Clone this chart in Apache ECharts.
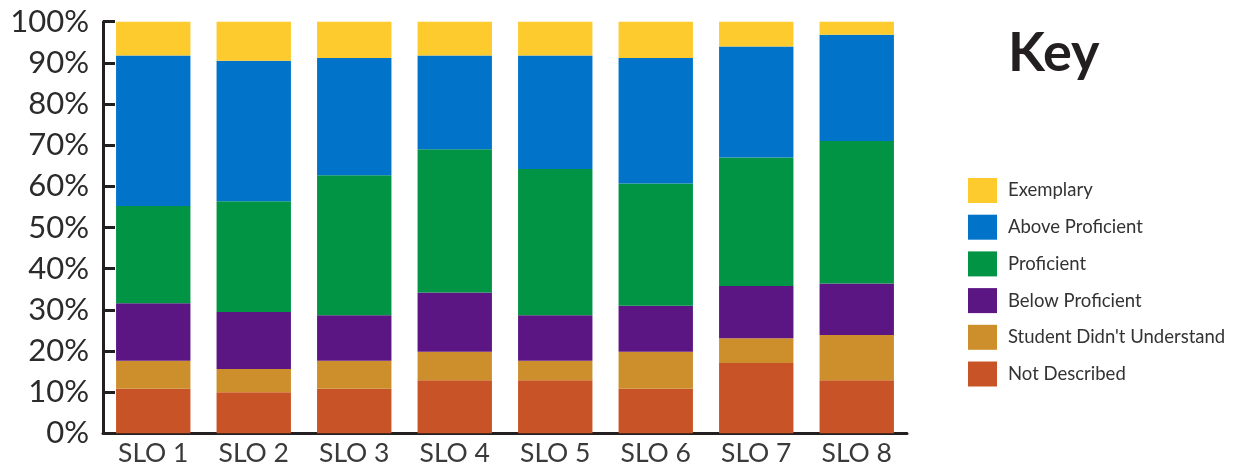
<!DOCTYPE html>
<html>
<head>
<meta charset="utf-8">
<title>SLO Results</title>
<script src="https://cdn.jsdelivr.net/npm/echarts@6/dist/echarts.min.js"></script>
<style>
  html, body { margin: 0; padding: 0; background: #fff; }
  #chart { width: 1233px; height: 470px; }
</style>
</head>
<body>
<div id="chart"></div>
<script>
// Categories and percentage shares per rating level (each column sums to 100)
const categories = ['SLO 1', 'SLO 2', 'SLO 3', 'SLO 4', 'SLO 5', 'SLO 6', 'SLO 7', 'SLO 8'];
const notDescribed      = [10.8, 10.0, 10.8, 12.9, 12.9, 10.8, 17.1, 12.9];
const didntUnderstand   = [ 6.8,  5.6,  6.8,  6.9,  4.7,  9.0,  6.0, 11.0];
const belowProficient   = [14.0, 13.9, 11.1, 14.4, 11.1, 11.2, 12.7, 12.5];
const proficient        = [23.6, 26.9, 34.0, 34.8, 35.5, 29.7, 31.2, 34.6];
const aboveProficient   = [36.6, 34.1, 28.5, 22.8, 27.6, 30.5, 27.0, 25.8];
const exemplary         = [ 8.2,  9.5,  8.8,  8.2,  8.2,  8.8,  6.0,  3.2];
const yTicks = [0, 10, 20, 30, 40, 50, 60, 70, 80, 90, 100];

const FONT = 'Lato, "Open Sans", sans-serif';
const AXIS = '#231f20';

const levels = [
  { name: 'Not Described',             data: notDescribed,    color: '#C85326' },
  { name: "Student Didn't Understand", data: didntUnderstand, color: '#CD8F2C' },
  { name: 'Below Proficient',          data: belowProficient, color: '#5B1684' },
  { name: 'Proficient',                data: proficient,      color: '#009444' },
  { name: 'Above Proficient',          data: aboveProficient, color: '#0174CA' },
  { name: 'Exemplary',                 data: exemplary,       color: '#FDCB2E' }
];

const chart = echarts.init(document.getElementById('chart'), null, { renderer: 'canvas' });

chart.setOption({
  animation: false,
  backgroundColor: '#ffffff',
  title: {
    text: 'Key',
    left: 1003,
    top: 22,
    textStyle: { fontFamily: FONT, fontSize: 54, fontWeight: 'bold', color: '#231f20' }
  },
  legend: {
    orient: 'vertical',
    left: 968,
    top: 178,
    padding: 0,
    icon: 'rect',
    itemWidth: 29,
    itemHeight: 25,
    itemGap: 11.7,
    selectedMode: false,
    data: levels.map(l => l.name).reverse(),
    textStyle: { fontFamily: FONT, fontSize: 18.5, color: '#333', padding: [0, 0, 0, 6] }
  },
  grid: { left: 103, right: 326, top: 21.7, bottom: 36.7, containLabel: false },
  xAxis: {
    type: 'category',
    data: categories,
    axisLine: { lineStyle: { color: AXIS, width: 3 } },
    axisTick: { inside: true, length: 10, lineStyle: { color: AXIS, width: 3 } },
    axisLabel: { fontFamily: FONT, fontSize: 26.5, color: '#3a3a3a', margin: 7 }
  },
  yAxis: {
    type: 'value',
    min: yTicks[0],
    max: yTicks[yTicks.length - 1],
    interval: 10,
    axisLine: { show: true, lineStyle: { color: AXIS, width: 3 } },
    axisTick: { show: true, inside: true, length: 12, lineStyle: { color: AXIS, width: 3 } },
    splitLine: { show: false },
    axisLabel: { fontFamily: FONT, fontSize: 31, color: '#2b2b2b', margin: 14, formatter: v => v + '%' }
  },
  series: levels.map(l => ({
    name: l.name,
    type: 'bar',
    stack: 'total',
    data: l.data,
    barCategoryGap: '26%',
    itemStyle: { color: l.color },
    z: 1
  }))
});
</script>
</body>
</html>
